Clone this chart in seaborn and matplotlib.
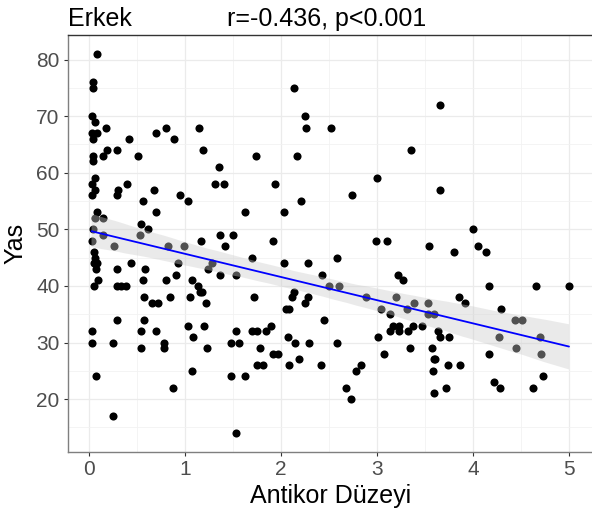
import numpy as np
import pandas as pd
import matplotlib
matplotlib.use("Agg")
import matplotlib.pyplot as plt
from matplotlib.collections import PolyCollection
from matplotlib.ticker import MultipleLocator
import seaborn as sns

antikor = [0.09, 0.045, 0.045, 0.035, 0.07, 0.18, 0.03, 0.09, 0.045, 0.42, 0.70, 0.80, 0.89, 1.15, 1.19, 1.36,
           1.32, 1.41, 0.045, 0.15, 0.19, 0.29, 0.51, 0.045, 0.07, 0.035, 0.065, 0.03, 0.31, 0.30, 0.40, 0.68,
           0.95, 1.03, 0.57, 0.70, 0.09, 0.07, 0.15, 0.55, 0.62, 0.045, 0.53, 0.15, 1.37, 1.50, 1.17, 0.04,
           0.26, 1.42, 0.83, 0.99, 0.06, 0.07, 0.09, 0.055, 0.08, 0.10, 0.06, 0.29, 0.44, 0.29, 0.34, 0.39,
           0.59, 0.57, 0.80, 0.93, 0.91, 1.28, 1.24, 1.37, 1.53, 1.08, 1.14, 1.16, 1.18, 1.22, 0.58, 0.66,
           0.72, 0.85, 1.05, 0.29, 0.58, 0.04, 0.035, 0.25, 0.54, 0.70, 0.78, 0.78, 0.55, 1.03, 1.20, 1.09,
           1.23, 1.53, 1.48, 1.57, 0.08, 1.08, 1.48, 0.88, 0.25, 1.53,
           2.14, 2.25, 2.26, 2.52, 1.74, 2.17, 3.36, 1.94, 3.00, 2.74, 2.21, 1.63, 2.03, 1.92, 2.99, 3.11,
           1.70, 2.03, 2.28, 2.59, 2.43, 2.50, 2.61, 1.72, 2.14, 2.12, 2.28, 2.25, 2.05, 2.09, 2.45, 3.22,
           3.27, 2.89, 3.04, 3.14, 3.20, 3.31, 3.17, 3.23, 3.14, 3.23, 3.32, 3.01, 3.07, 3.34, 1.70, 1.75,
           1.85, 1.90, 1.78, 1.92, 1.97, 2.08, 2.15, 2.29, 2.58, 1.75, 1.82, 2.09, 2.19, 2.42, 1.63, 2.84,
           2.78, 2.68, 2.73,
           3.66, 3.66, 4.00, 3.54, 3.80, 4.05, 4.14, 4.17, 4.66, 5.00, 3.86, 3.92, 3.39, 3.53, 3.53, 3.60,
           4.29, 3.38, 3.47, 3.64, 3.66, 3.75, 3.57, 3.59, 3.61, 3.58, 3.74, 3.87, 3.72, 3.59, 4.27, 4.17,
           4.44, 4.51, 4.45, 4.70, 4.71, 4.73, 4.63, 4.22, 4.28]

yas = [81, 76, 75, 70, 69, 68, 67, 67, 66, 66, 67, 68, 66, 68, 64, 61,
       58, 58, 63, 63, 64, 64, 63, 62, 59, 58, 57, 56, 57, 56, 58, 57,
       56, 55, 55, 53, 53, 52, 52, 51, 50, 50, 49, 49, 49, 49, 48, 48,
       47, 47, 47, 47, 46, 45, 44, 44, 43, 41, 40, 43, 44, 40, 40, 40,
       43, 41, 41, 44, 42, 44, 43, 42, 42, 41, 40, 39, 39, 37, 38, 37,
       37, 38, 38, 34, 34, 32, 30, 30, 32, 32, 30, 29, 29, 33, 33, 31,
       29, 32, 30, 30, 24, 25, 24, 22, 17, 14,
       75, 70, 68, 68, 63, 63, 64, 58, 59, 56, 55, 53, 53, 48, 48, 48,
       45, 44, 44, 45, 42, 40, 40, 38, 39, 38, 38, 37, 36, 36, 34, 42,
       41, 38, 36, 35, 38, 36, 33, 33, 32, 32, 32, 31, 28, 29, 32, 32,
       32, 33, 29, 28, 28, 31, 30, 30, 30, 26, 26, 26, 27, 26, 24, 26,
       25, 22, 20,
       72, 57, 50, 47, 46, 47, 46, 40, 40, 40, 38, 37, 37, 37, 35, 35,
       36, 33, 33, 32, 31, 31, 29, 27, 27, 25, 26, 26, 22, 21, 31, 28,
       34, 34, 29, 31, 28, 24, 22, 23, 22]

title_left = "Erkek"
title_right = "r=-0.436, p<0.001"
x_label = "Antikor Düzeyi"
y_label = "Yas"
x_ticks = [0, 1, 2, 3, 4, 5]
y_ticks = [20, 30, 40, 50, 60, 70, 80]

df = pd.DataFrame({"Antikor": antikor, "Yas": yas})

sns.set_theme(style="white")
plt.rcParams["font.family"] = ["Liberation Sans", "DejaVu Sans"]

fig = plt.figure(figsize=(5.92, 5.15), dpi=100)
ax = fig.add_axes([68 / 592, (515 - 452) / 515, (593 - 68) / 592, (452 - 35) / 515])

sns.scatterplot(data=df, x="Antikor", y="Yas", ax=ax, color="black", s=34,
                linewidth=0, zorder=3)
sns.regplot(data=df, x="Antikor", y="Yas", ax=ax, scatter=False, ci=95, seed=1,
            color="#0000FF", line_kws={"linewidth": 1.3, "zorder": 5})
for coll in ax.collections:
    if isinstance(coll, PolyCollection):
        coll.set_alpha(0.4)
        coll.set_facecolor("#CCCCCC")
        coll.set_edgecolor("none")
        coll.set_zorder(4)

ax.set_xlim(-0.215, 5.25)
ax.set_ylim(10.65, 84.35)
ax.set_xticks(x_ticks)
ax.set_yticks(y_ticks)
ax.xaxis.set_minor_locator(MultipleLocator(0.5))
ax.yaxis.set_minor_locator(MultipleLocator(5))
ax.grid(True, which="major", color="#EBEBEB", linewidth=0.9, zorder=0)
ax.grid(True, which="minor", color="#F2F2F2", linewidth=0.6, zorder=0)
ax.set_axisbelow(True)

for s in ["top", "left", "bottom", "right"]:
    ax.spines[s].set_visible(True)
    ax.spines[s].set_color("#333333")
    ax.spines[s].set_linewidth(1.0)
ax.spines["left"].set_color("#7F7F7F")
ax.spines["bottom"].set_color("#7F7F7F")

ax.tick_params(axis="both", which="major", length=3, width=0.8, color="#333333",
               labelsize=15, labelcolor="#4D4D4D", pad=3,
               bottom=True, left=True)
ax.tick_params(axis="both", which="minor", length=0)

ax.set_xlabel(x_label, fontsize=18, color="black", labelpad=3)
ax.set_ylabel(y_label, fontsize=18, color="black", labelpad=6)

fig.text(68 / 592, 1 - 26 / 515, title_left, fontsize=18, color="black", ha="left", va="baseline")
fig.text(227 / 592, 1 - 26 / 515, title_right, fontsize=18, color="black", ha="left", va="baseline")

fig.savefig("out.png", dpi=100)
